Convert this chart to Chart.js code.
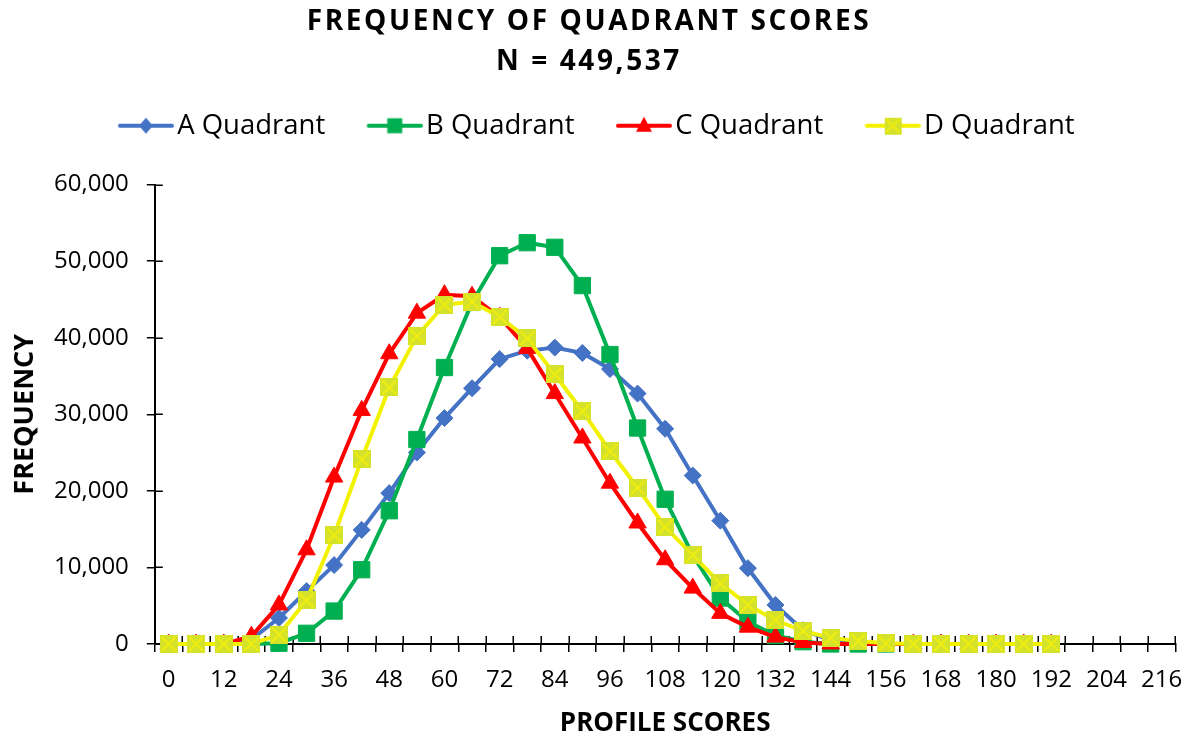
<!DOCTYPE html>
<html>
<head>
<meta charset="utf-8">
<script src="https://cdn.jsdelivr.net/npm/chart.js@4.4.1/dist/chart.umd.min.js"></script>
<style>
  html, body { margin: 0; padding: 0; background: #fff; }
  #wrap { width: 1196px; height: 742px; }
</style>
</head>
<body>
<div id="wrap"><canvas id="chart"></canvas></div>
<script>
// Profile score categories (every 6 points, labels shown every 12)
const scores = ['0', '6', '12', '18', '24', '30', '36', '42', '48', '54', '60', '66',
    '72', '78', '84', '90', '96', '102', '108', '114', '120', '126', '132', '138',
    '144', '150', '156', '162', '168', '174', '180', '186', '192', '198', '204', '210', '216'];

const seriesNames = ['A Quadrant', 'B Quadrant', 'C Quadrant', 'D Quadrant'];

// Frequencies (0 .. 192)
const aQuadrant = [0, 0, 0, 600, 3400, 6900, 10300, 14900, 19700, 25000, 29500, 33400,
    37200, 38300, 38700, 38000, 35900, 32700, 28100, 22000, 16100, 9900, 5100, 1800,
    500, 100, 0, 0, 0, 0, 0, 0, 0];
const bQuadrant = [0, 0, 0, 0, 100, 1400, 4300, 9700, 17400, 26700, 36100, 44600,
    50700, 52400, 51800, 46800, 37800, 28200, 18900, 11600, 6000, 2900, 1100, 300,
    0, 0, 0, 0, 0, 0, 0, 0, 0];
const cQuadrant = [0, 0, 0, 1000, 5100, 12300, 21800, 30500, 37900, 43200, 45600, 45400,
    42700, 38600, 32700, 26900, 21000, 15800, 11000, 7300, 4000, 2200, 900, 200,
    0, 0, 0, 0, 0, 0, 0, 0, 0];
const dQuadrant = [0, 0, 0, 0, 1200, 5700, 14200, 24100, 33500, 40200, 44300, 44700,
    42700, 39900, 35200, 30400, 25200, 20400, 15300, 11600, 7900, 5100, 3100, 1700,
    800, 400, 100, 0, 0, 0, 0, 0, 0];

const yTicks = [0, 10000, 20000, 30000, 40000, 50000, 60000];

const colors = ['#4472C4', '#00B050', '#FF0000', '#F2F200'];
const FONT = '"Open Sans", "Noto Sans", sans-serif';

// yellow square marker with a cross
function makeCrossSquare(size) {
    const c = document.createElement('canvas');
    c.width = size;
    c.height = size;
    const g = c.getContext('2d');
    g.fillStyle = '#D5E22B';
    g.fillRect(0, 0, size, size);
    g.strokeStyle = '#F0EE10';
    g.lineWidth = 2;
    g.beginPath();
    g.moveTo(2, 2); g.lineTo(size - 2, size - 2);
    g.moveTo(size - 2, 2); g.lineTo(2, size - 2);
    g.stroke();
    return c;
}
const dMarker = makeCrossSquare(18);

// legend swatch: line with the marker in the middle
const SW_W = 88, SW_H = 22, SW_BLANK = 32;
function makeSwatch(i) {
    const c = document.createElement('canvas');
    c.width = SW_W;
    c.height = SW_H;
    const g = c.getContext('2d');
    const cy = SW_H / 2;
    const cx = (SW_BLANK + SW_W) / 2;
    g.strokeStyle = colors[i];
    g.lineWidth = 4;
    g.lineCap = 'round';
    g.beginPath();
    g.moveTo(SW_BLANK + 2, cy);
    g.lineTo(SW_W - 2, cy);
    g.stroke();
    g.fillStyle = colors[i];
    g.beginPath();
    if (i === 0) {
        g.moveTo(cx, cy - 8); g.lineTo(cx + 7, cy); g.lineTo(cx, cy + 8); g.lineTo(cx - 7, cy);
        g.closePath(); g.fill();
    } else if (i === 1) {
        g.fillRect(cx - 7.5, cy - 7.5, 15, 15);
    } else if (i === 2) {
        g.moveTo(cx, cy - 9); g.lineTo(cx + 8, cy + 6); g.lineTo(cx - 8, cy + 6);
        g.closePath(); g.fill();
    } else {
        g.drawImage(makeCrossSquare(17), cx - 8.5, cy - 8.5);
    }
    return c;
}
const swatches = [0, 1, 2, 3].map(makeSwatch);

function series(i, data, style, radius, order) {
    return {
        label: seriesNames[i],
        data: data,
        borderColor: colors[i],
        backgroundColor: colors[i],
        borderWidth: 4,
        borderJoinStyle: 'round',
        borderCapStyle: 'round',
        tension: 0,
        pointStyle: style,
        pointRadius: radius,
        pointBackgroundColor: i === 3 ? '#D5E22B' : colors[i],
        pointBorderColor: i === 3 ? '#D5E22B' : colors[i],
        pointBorderWidth: 1,
        clip: false,
        order: order
    };
}

// tick marks crossing the axes (inner half)
const crossTicks = {
    id: 'crossTicks',
    beforeDatasetsDraw(chart) {
        const { ctx, chartArea, scales: { x, y } } = chart;
        const len = 8;
        ctx.save();
        ctx.strokeStyle = '#000';
        ctx.lineWidth = 1.5;
        ctx.beginPath();
        y.ticks.forEach((t, i) => {
            const py = Math.round(y.getPixelForTick(i)) + 0.25;
            ctx.moveTo(chartArea.left, py);
            ctx.lineTo(chartArea.left + len, py);
        });
        const half = (x.getPixelForTick(1) - x.getPixelForTick(0)) / 2;
        for (let i = 0; i <= x.ticks.length; i++) {
            const px = Math.round(x.getPixelForTick(0) - half + i * half * 2) + 0.25;
            ctx.moveTo(px, chartArea.bottom);
            ctx.lineTo(px, chartArea.bottom - len);
        }
        ctx.stroke();
        ctx.restore();
    }
};

// centre the visible legend (swatches have blank space on their left)
const legendShift = {
    id: 'legendShift',
    afterLayout(chart) {
        const lg = chart.legend;
        if (!lg) return;
        lg.left -= 3.5;
        lg.right -= 3.5;
    }
};

// empty gap between the legend and the plot
const legendGap = {
    id: 'legendGap',
    beforeInit(chart) {
        Chart.layouts.addBox(chart, {
            position: 'top',
            weight: -100,
            fullSize: true,
            options: {},
            width: 0, height: 0, top: 0, left: 0, right: 0, bottom: 0,
            update(maxWidth) { this.width = maxWidth; this.height = 35; },
            isHorizontal() { return true; },
            getPadding() { return { top: 0, left: 0, right: 0, bottom: 0 }; },
            draw() {}
        });
    }
};

const chart = new Chart(document.getElementById('chart'), {
    type: 'line',
    data: {
        labels: scores,
        datasets: [
            series(0, aQuadrant, 'rectRot', 8.5, 4),
            series(1, bQuadrant, 'rect', 11.5, 3),
            series(2, cQuadrant, 'triangle', 10, 2),
            series(3, dQuadrant, dMarker, 9, 1)
        ]
    },
    plugins: [crossTicks, legendShift, legendGap],
    options: {
        responsive: true,
        maintainAspectRatio: false,
        animation: false,
        events: [],
        layout: { padding: { left: 0, right: 18, top: 0, bottom: 4 } },
        plugins: {
            title: {
                display: true,
                text: ['FREQUENCY OF QUADRANT SCORES', 'N = 449,537'],
                color: '#000',
                font: { family: FONT, size: 28, weight: 'bold', lineHeight: 40 / 28 },
                padding: { top: 2, bottom: 10 }
            },
            legend: {
                display: true,
                position: 'top',
                labels: {
                    color: '#000',
                    font: { family: FONT, size: 27.5 },
                    usePointStyle: true,
                    pointStyleWidth: 67,
                    padding: 20,
                    generateLabels: (ch) => ch.data.datasets.map((ds, i) => ({
                        text: ds.label,
                        pointStyle: swatches[i],
                        fillStyle: colors[i],
                        strokeStyle: colors[i],
                        fontColor: '#000',
                        lineWidth: 0,
                        hidden: false,
                        datasetIndex: i
                    }))
                }
            },
            tooltip: { enabled: false }
        },
        scales: {
            x: {
                type: 'category',
                offset: true,
                grid: {
                    offset: true,
                    display: true,
                    drawOnChartArea: false,
                    drawTicks: true,
                    tickLength: 8,
                    color: '#000',
                    lineWidth: 1.5
                },
                border: { display: true, color: '#000', width: 2 },
                ticks: {
                    autoSkip: false,
                    maxRotation: 0,
                    minRotation: 0,
                    padding: 13.5,
                    color: '#000',
                    font: { family: FONT, size: 24 },
                    callback: (v, i) => (i % 2 === 0 ? scores[i] : '')
                },
                title: {
                    display: true,
                    text: 'PROFILE SCORES',
                    color: '#000',
                    font: { family: FONT, size: 26, weight: 'bold', lineHeight: 1.1 },
                    padding: { top: 1.6, bottom: 0 }
                }
            },
            y: {
                min: 0,
                max: 60000,
                afterBuildTicks: (scale) => {
                    scale.ticks = yTicks.map(v => ({ value: v }));
                },
                grid: {
                    display: true,
                    drawOnChartArea: false,
                    drawTicks: true,
                    tickLength: 8,
                    color: '#000',
                    lineWidth: 1.5
                },
                border: { display: true, color: '#000', width: 2 },
                ticks: {
                    padding: 18,
                    color: '#000',
                    font: { family: FONT, size: 24 },
                    callback: (v) => Number(v).toLocaleString('en-US')
                },
                title: {
                    display: true,
                    text: 'FREQUENCY',
                    color: '#000',
                    font: { family: FONT, size: 27, weight: 'bold', lineHeight: 1 },
                    padding: { top: 11.5, bottom: -2.5 }
                }
            }
        }
    }
});

// spaced-out title lettering
const tb = chart.titleBlock;
const titleDraw = tb.draw.bind(tb);
tb.draw = function () {
    const c = this.ctx;
    c.save();
    c.letterSpacing = '2.6px';
    titleDraw();
    c.restore();
};
chart.draw();
</script>
</body>
</html>
